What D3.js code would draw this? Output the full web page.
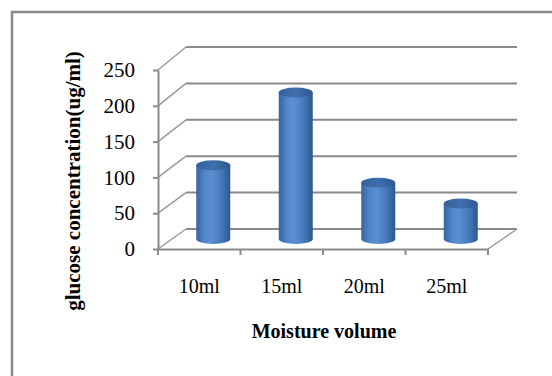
<!DOCTYPE html>
<html>
<head>
<meta charset="utf-8">
<script src="https://cdn.jsdelivr.net/npm/d3@7"></script>
<style>
  html, body { margin: 0; padding: 0; background: #fff; }
  svg { display: block; }
  text { font-family: "Liberation Serif", "Times New Roman", serif; fill: #000; }
</style>
</head>
<body>
<svg id="chart" width="552" height="376"></svg>
<script>
// Glucose released at each moisture volume
const categories = ["10ml", "15ml", "20ml", "25ml"];
const glucose = [102, 203, 78, 49];
const yTicks = [0, 50, 100, 150, 200, 250];
const yTitle = "glucose concentration(ug/ml)";
const xTitle = "Moisture volume";

const svg = d3.select("#chart");

// Chart frame (runs off the right and bottom edges)
svg.append("rect")
  .attr("x", 12).attr("y", 12)
  .attr("width", 620).attr("height", 420)
  .attr("fill", "none").attr("stroke", "#8c8c8c").attr("stroke-width", 2.5);

// 3D box: front plane, back wall, and the mid-depth plane where the cylinders stand
const depth = { dx: 28, dy: -20 };
const x = d3.scaleBand().domain(categories).range([158, 488]).padding(0);
const yFront = d3.scaleLinear().domain([0, 250]).range([249, 70]);
const yBack = d3.scaleLinear().domain([0, 250]).range([229, 47]);
const yMid = v => (yFront(v) + yBack(v)) / 2;

const gridColor = "#8a8a8a";
const backRight = 517;

// Back wall gridlines
svg.append("g").selectAll("line").data(yTicks).join("line")
  .attr("x1", x.range()[0] + depth.dx).attr("x2", backRight)
  .attr("y1", d => yBack(d)).attr("y2", d => yBack(d))
  .attr("stroke", gridColor).attr("stroke-width", 2);

// Side wall diagonals
svg.append("g").selectAll("line").data(yTicks).join("line")
  .attr("x1", x.range()[0]).attr("y1", d => yFront(d))
  .attr("x2", x.range()[0] + depth.dx).attr("y2", d => yBack(d))
  .attr("stroke", "#9a9a9a").attr("stroke-width", 1.5);

// Floor right edge
svg.append("line")
  .attr("x1", x.range()[1]).attr("y1", yFront(0))
  .attr("x2", backRight).attr("y2", yBack(0))
  .attr("stroke", "#9a9a9a").attr("stroke-width", 1.5);

// Cylinder shading
const defs = svg.append("defs");
const body = defs.append("linearGradient").attr("id", "cylBody")
  .attr("x1", "0%").attr("x2", "100%").attr("y1", "0%").attr("y2", "0%");
[["0%", "#36649f"], ["25%", "#5287cb"], ["45%", "#5a8fd3"], ["75%", "#4677b8"], ["100%", "#2b5690"]]
  .forEach(([o, c]) => body.append("stop").attr("offset", o).attr("stop-color", c));
const cap = defs.append("linearGradient").attr("id", "cylTop")
  .attr("x1", "0%").attr("x2", "100%").attr("y1", "0%").attr("y2", "0%");
[["0%", "#35619a"], ["50%", "#3f6fae"], ["100%", "#2f5a93"]]
  .forEach(([o, c]) => cap.append("stop").attr("offset", o).attr("stop-color", c));

const rx = 17, ry = 5;
const cyl = svg.append("g").selectAll("g").data(categories.map((c, i) => ({ c, v: glucose[i] }))).join("g");
cyl.append("path")
  .attr("fill", "url(#cylBody)")
  .attr("d", d => {
    const cx = x(d.c) + x.bandwidth() / 2 + depth.dx / 2;
    const t = yMid(d.v), b = yMid(0);
    return `M${cx - rx},${t} L${cx - rx},${b} A${rx},${ry} 0 0 0 ${cx + rx},${b} L${cx + rx},${t} Z`;
  });
cyl.append("ellipse")
  .attr("cx", d => x(d.c) + x.bandwidth() / 2 + depth.dx / 2)
  .attr("cy", d => yMid(d.v))
  .attr("rx", rx).attr("ry", ry)
  .attr("fill", "url(#cylTop)");

// Front value axis
const yAxis = svg.append("g")
  .attr("transform", `translate(${x.range()[0]},0)`)
  .call(d3.axisLeft(yFront).tickValues(yTicks).tickSize(5).tickPadding(18).tickSizeOuter(0));
yAxis.select(".domain").attr("stroke", gridColor).attr("stroke-width", 2);
yAxis.selectAll(".tick line").attr("stroke", gridColor).attr("stroke-width", 2);
yAxis.selectAll(".tick text").attr("font-size", 21).attr("font-family", "Liberation Serif");

// Front category axis with ticks between categories
const xAxis = svg.append("g")
  .attr("transform", `translate(0,${yFront(0)})`)
  .call(d3.axisBottom(x).tickSize(0).tickSizeOuter(0));
xAxis.select(".domain").attr("stroke", gridColor).attr("stroke-width", 2);
xAxis.selectAll(".tick text")
  .attr("y", 44).attr("dy", 0)
  .attr("font-size", 20).attr("font-family", "Liberation Serif");
const edges = categories.map(c => x(c)).concat([x.range()[1]]);
svg.append("g").selectAll("line").data(edges).join("line")
  .attr("x1", d => d).attr("x2", d => d)
  .attr("y1", yFront(0)).attr("y2", yFront(0) + 6)
  .attr("stroke", gridColor).attr("stroke-width", 2);

// Axis titles
svg.append("text")
  .attr("x", 324).attr("y", 338)
  .attr("text-anchor", "middle")
  .attr("font-size", 20).attr("font-weight", "bold")
  .text(xTitle);
svg.append("text")
  .attr("transform", "translate(73,181) rotate(-90)")
  .attr("dy", "0.35em")
  .attr("text-anchor", "middle")
  .attr("font-size", 21).attr("font-weight", "bold")
  .text(yTitle);
</script>
</body>
</html>
